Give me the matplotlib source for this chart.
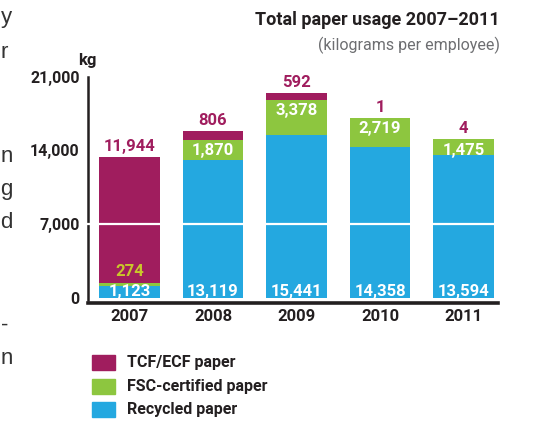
import matplotlib
matplotlib.use("Agg")
import matplotlib.pyplot as plt
from matplotlib import font_manager

# ---- data -------------------------------------------------------------
years = ["2007", "2008", "2009", "2010", "2011"]
recycled = [1123, 13119, 15441, 14358, 13594]
fsc = [274, 1870, 3378, 2719, 1475]
tcf = [11944, 806, 592, 1, 4]
series_names = ["TCF/ECF paper", "FSC-certified paper", "Recycled paper"]
yticks = [0, 7000, 14000, 21000]
margin_letters = ["y", "r", "n", "g", "d", "-", "n"]

# ---- style ------------------------------------------------------------
C_TCF = "#A01D5E"
C_FSC = "#8DC63F"
C_REC = "#24A8E0"
C_274 = "#C9C72A"
DARK = "#231F20"

available = {f.name for f in font_manager.fontManager.ttflist}
FONT = [n for n in ["Roboto"] if n in available] + ["DejaVu Sans"]
REG = [n for n in ["Liberation Sans"] if n in available] + ["DejaVu Sans"]

fig = plt.figure(figsize=(5.37, 4.21), dpi=100)
ax = fig.add_axes([88 / 537, (421 - 303) / 421, (498 - 88) / 537, (303 - 76.5) / 421])

x = list(range(len(years)))
width = 0.73
base2 = [r + f for r, f in zip(recycled, fsc)]
tops = [b + t for b, t in zip(base2, tcf)]

ax.bar(x, recycled, width, color=C_REC, zorder=2)
ax.bar(x, fsc, width, bottom=recycled, color=C_FSC, zorder=2)
ax.bar(x, tcf, width, bottom=base2, color=C_TCF, zorder=2)

# white rule through the chart at 7,000
ax.axhline(7000, color="white", lw=1.6, zorder=4, xmin=-0.02, clip_on=False)

ax.set_xlim(-0.497, 4.413)
ax.set_ylim(-473, 21000)

for s in ["top", "right"]:
    ax.spines[s].set_visible(False)
ax.spines["left"].set_linewidth(1.8)
ax.spines["left"].set_color(DARK)
ax.spines["left"].set_bounds(-200, 21000)
ax.spines["bottom"].set_linewidth(2.6)
ax.spines["bottom"].set_color(DARK)

ax.set_yticks(yticks)
ax.set_yticklabels([f"{v:,}" for v in yticks])
ax.tick_params(axis="y", length=0, pad=6)
ax.set_xticks(x)
ax.set_xticklabels(years)
ax.tick_params(axis="x", length=0, pad=4)
for lab in ax.get_yticklabels():
    lab.set_family(FONT)
    lab.set_fontweight("bold")
    lab.set_fontsize(11.5)
    lab.set_color(DARK)
for lab in ax.get_xticklabels():
    lab.set_family(FONT)
    lab.set_fontweight("bold")
    lab.set_fontsize(12)
    lab.set_color(DARK)

lbl = dict(family=FONT, fontweight="bold", fontsize=12, ha="center", va="baseline")
px = 21473 / (303 - 76.5)  # data units per pixel

for i in x:
    # TCF/ECF value above the bar
    ax.text(i, tops[i] + 6 * px, f"{tcf[i]:,}", color=C_TCF, **lbl)
    # FSC value near top of green segment
    if i == 0:
        ax.text(i, base2[i] + 7.5 * px, f"{fsc[i]:,}", color=C_274, **lbl)
    else:
        ax.text(i, base2[i] - 15.5 * px, f"{fsc[i]:,}", color="white", **lbl)
    # recycled value at the bar foot
    ax.text(i, 2 * px, f"{recycled[i]:,}", color="white", **lbl)

# axis unit
fig.text(87 / 537, 1 - 60 / 421, "kg", family=FONT, fontweight="bold",
         fontsize=12, color=DARK, ha="center", va="center")

# title and subtitle
fig.text(500 / 537, 1 - 20 / 421, "Total paper usage 2007\u20132011", family=FONT,
         fontweight="bold", fontsize=13, color=DARK, ha="right", va="center")
fig.text(500 / 537, 1 - 45 / 421, "(kilograms per employee)", family=FONT,
         fontsize=11.5, color="#6D6E71", ha="right", va="center")

# legend
colors = [C_TCF, C_FSC, C_REC]
for k, (name, col) in enumerate(zip(series_names, colors)):
    yc = 1 - (362.5 + 23.5 * k) / 421
    fig.patches.append(plt.Rectangle((92 / 537, yc - 7.5 / 421), 23 / 537, 15 / 421,
                                     transform=fig.transFigure, color=col))
    fig.text(127 / 537, yc, name, family=FONT, fontweight="bold",
             fontsize=11.5, color=DARK, ha="left", va="center")

# neighbouring body text at the page margin
margin_y = [18, 52, 157, 190, 222, 325, 359]
for ch, yy in zip(margin_letters, margin_y):
    fig.text(0.5 / 537, 1 - yy / 421, ch, family=REG, fontsize=16, color="#333333",
             ha="left", va="center")

fig.savefig("out.png", dpi=100)
